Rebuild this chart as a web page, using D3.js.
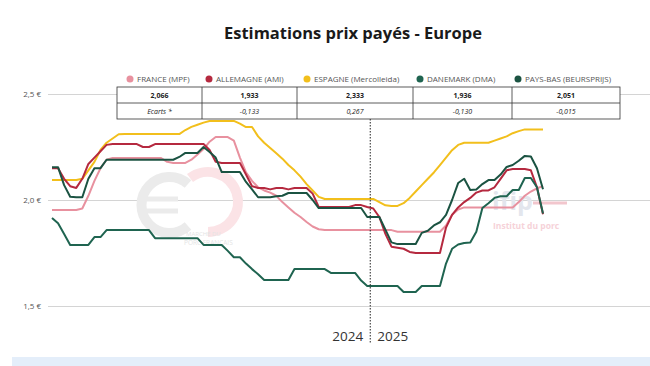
<!DOCTYPE html>
<meta charset="utf-8">
<script src="https://cdn.jsdelivr.net/npm/d3@7"></script>
<style>
  body { margin: 0; background: #fff; font-family: 'Open Sans', sans-serif; }
</style>
<div id="chart"></div>
<script>
// weekly estimates, 2024 (53 pts) then 2025
var france = [1.953,1.953,1.953,1.953,1.953,1.96,2.02,2.09,2.15,2.19,
  2.198,2.198,2.198,2.198,2.198,2.198,2.198,2.198,2.198,2.18,
  2.175,2.175,2.175,2.19,2.215,2.24,2.275,2.297,2.297,2.297,
  2.28,2.20,2.13,2.09,2.06,2.045,2.035,2.02,1.99,1.965,
  1.94,1.92,1.896,1.875,1.862,1.858,1.858,1.858,1.858,1.858,
  1.858,1.858,1.858,1.858,1.858,1.858,1.858,1.85,1.85,1.85,
  1.85,1.85,1.85,1.85,1.85,1.88,1.93,1.955,1.965,1.965,
  1.965,1.965,1.965,1.965,1.965,1.965,1.965,1.99,2.02,2.04,
  2.055,2.066];
var allemagne = [2.15,2.15,2.10,2.065,2.057,2.10,2.17,2.20,2.23,2.26,
  2.264,2.264,2.264,2.264,2.264,2.25,2.25,2.264,2.264,2.264,
  2.264,2.264,2.264,2.264,2.264,2.264,2.236,2.18,2.175,2.175,
  2.175,2.175,2.12,2.065,2.057,2.057,2.05,2.057,2.057,2.05,
  2.057,2.057,2.057,2.03,1.967,1.967,1.967,1.967,1.967,1.967,
  1.976,1.976,1.967,1.96,1.92,1.84,1.78,1.775,1.77,1.755,
  1.75,1.75,1.75,1.75,1.75,1.87,1.93,1.965,1.99,2.01,
  2.035,2.045,2.045,2.06,2.10,2.14,2.146,2.146,2.146,2.14,
  2.06,1.933];
var espagne = [2.094,2.094,2.094,2.094,2.094,2.10,2.14,2.18,2.236,2.27,
  2.29,2.31,2.311,2.311,2.311,2.311,2.311,2.311,2.311,2.311,
  2.311,2.311,2.33,2.345,2.355,2.365,2.373,2.373,2.373,2.373,
  2.373,2.36,2.344,2.344,2.30,2.27,2.245,2.22,2.195,2.165,
  2.14,2.11,2.075,2.045,2.015,2.005,2.005,2.005,2.005,2.005,
  2.005,2.005,2.005,2.005,1.99,1.975,1.972,1.972,1.985,2.01,
  2.04,2.07,2.10,2.13,2.165,2.20,2.235,2.26,2.27,2.27,
  2.27,2.27,2.27,2.28,2.29,2.30,2.315,2.325,2.333,2.333,
  2.333,2.333];
var danemark = [1.915,1.89,1.84,1.788,1.788,1.788,1.788,1.825,1.825,1.858,
  1.858,1.858,1.858,1.858,1.858,1.858,1.858,1.82,1.82,1.82,
  1.82,1.82,1.82,1.82,1.82,1.788,1.788,1.788,1.788,1.76,
  1.73,1.73,1.70,1.674,1.65,1.623,1.623,1.623,1.623,1.623,
  1.674,1.674,1.674,1.674,1.674,1.674,1.656,1.656,1.656,1.656,
  1.656,1.62,1.594,1.594,1.594,1.594,1.594,1.594,1.566,1.566,
  1.566,1.594,1.594,1.594,1.594,1.70,1.77,1.79,1.797,1.80,
  1.85,1.962,1.985,2.01,2.018,2.018,2.047,2.047,2.104,2.104,
  2.06,1.936];
var paysBas = [2.155,2.155,2.07,2.015,2.013,2.013,2.10,2.15,2.15,2.19,
  2.19,2.19,2.19,2.19,2.19,2.19,2.19,2.19,2.19,2.19,
  2.19,2.203,2.222,2.222,2.222,2.25,2.226,2.20,2.132,2.132,
  2.132,2.132,2.085,2.05,2.013,2.013,2.013,2.018,2.02,2.033,
  2.033,2.033,2.033,2.00,1.962,1.962,1.962,1.962,1.962,1.962,
  1.962,1.962,1.92,1.92,1.92,1.86,1.80,1.792,1.792,1.792,
  1.792,1.845,1.855,1.88,1.895,1.93,2.00,2.08,2.10,2.047,
  2.05,2.075,2.094,2.094,2.12,2.156,2.165,2.185,2.208,2.205,
  2.15,2.051];

var seriesNames = ["FRANCE (MPF)", "ALLEMAGNE (AMI)", "ESPAGNE (Mercolleida)", "DANEMARK (DMA)", "PAYS-BAS (BEURSPRIJS)"];
var seriesColors = ["#e8919f", "#b5293f", "#f2bf1c", "#1f6450", "#1b5342"];
var lastValues = ["2,066", "1,933", "2,333", "1,936", "2,051"];
var ecarts = ["Ecarts *", "-0,133", "0,267", "-0,130", "-0,015"];
var yTicks = [1.5, 2.0, 2.5];
var years = ["2024", "2025"];
var weeks2024 = 53;

var W = 650, H = 366;
var svg = d3.select("#chart").append("svg").attr("width", W).attr("height", H);

var x = d3.scaleLinear().domain([0, france.length - 1]).range([52, 543]);
var y = d3.scaleLinear().domain([1.5, 2.5]).range([306, 94]);

// title
svg.append("text").attr("x", 353).attr("y", 39).attr("text-anchor", "middle")
  .style("font-size", "16.5px").style("font-weight", "bold").style("fill", "#1a1a1a")
  .text("Estimations prix payés - Europe");

// y axis with gridlines
var yAxis = svg.append("g").attr("transform", "translate(650,0)")
  .call(d3.axisLeft(y).tickValues(yTicks).tickSize(602).tickPadding(7)
    .tickFormat(function(d){ return d3.format(".1f")(d).replace(".", ",") + " €"; }));
yAxis.select(".domain").remove();
yAxis.selectAll("line").style("stroke", "#d4d4d4");
yAxis.selectAll("text").style("font-size", "8px").style("fill", "#555").style("font-family", "'Open Sans', sans-serif");

// watermarks (drawn as shapes so they stay behind)
var wm = svg.append("g");
wm.append("path").attr("d", "M188,184 A28,28 0 1 0 188,226")
  .style("fill", "none").style("stroke", "#ebebeb").style("stroke-width", 10);
wm.append("line").attr("x1", 143).attr("x2", 178).attr("y1", 199).attr("y2", 199)
  .style("stroke", "#ebebeb").style("stroke-width", 5);
wm.append("line").attr("x1", 143).attr("x2", 178).attr("y1", 211).attr("y2", 211)
  .style("stroke", "#ebebeb").style("stroke-width", 5);
wm.append("path").attr("d", "M190,178 A30,30 0 1 1 208,232")
  .style("fill", "none").style("stroke", "#fbe3e6").style("stroke-width", 10);
wm.append("text").attr("x", 186).attr("y", 236).style("font-size", "6px").style("fill", "#e4e4e4").text("MARCHÉ DU");
wm.append("text").attr("x", 184).attr("y", 245).style("font-size", "6.5px").style("fill", "#e4e4e4").text("PORC FRANÇAIS");
wm.append("text").attr("x", 492).attr("y", 210).style("font-size", "25px").style("font-weight", "bold").style("fill", "#e3e6ed").text("ifip");
wm.append("line").attr("x1", 533).attr("x2", 567).attr("y1", 203).attr("y2", 203)
  .style("stroke", "#f2c6cd").style("stroke-width", 3);
wm.append("text").attr("x", 493).attr("y", 229).style("font-size", "8.5px").style("font-weight", "bold").style("fill", "#f6d2d8").text("Institut du porc");

// lines
var line = d3.line().x(function(d, i){ return x(i); }).y(function(d){ return y(d); });
var allSeries = [france, espagne, allemagne, danemark, paysBas];
var order = [0, 2, 1, 3, 4];
allSeries.forEach(function(s, k){
  svg.append("path").datum(s).attr("d", line)
    .style("fill", "none").style("stroke", seriesColors[order[k]]).style("stroke-width", 2)
    .style("stroke-linejoin", "round");
});

// year divider
var xDiv = x(weeks2024 - 0.5);
svg.append("line").attr("x1", xDiv).attr("x2", xDiv).attr("y1", 119).attr("y2", 343)
  .style("stroke", "#222").style("stroke-width", 1).style("stroke-dasharray", "1.5,1.5");
svg.append("text").attr("x", xDiv - 7).attr("y", 341).attr("text-anchor", "end")
  .style("font-size", "13.5px").style("fill", "#333").text(years[0]);
svg.append("text").attr("x", xDiv + 7).attr("y", 341).attr("text-anchor", "start")
  .style("font-size", "13.5px").style("fill", "#333").text(years[1]);

// legend
var legendX = [130, 209, 307, 420, 518];
seriesNames.forEach(function(n, i){
  svg.append("circle").attr("cx", legendX[i]).attr("cy", 79).attr("r", 3.5).style("fill", seriesColors[i]);
  svg.append("text").attr("x", legendX[i] + 7).attr("y", 82).style("font-size", "8px").style("fill", "#555").text(n);
});

// table
var colX = [117, 202, 297, 413, 512, 620];
var rowY = [87, 103, 119];
var tbl = svg.append("g");
tbl.append("rect").attr("x", colX[0]).attr("y", rowY[0]).attr("width", colX[5] - colX[0]).attr("height", rowY[2] - rowY[0])
  .style("fill", "#fff").style("stroke", "#333").style("stroke-width", 0.8);
tbl.append("line").attr("x1", colX[0]).attr("x2", colX[5]).attr("y1", rowY[1]).attr("y2", rowY[1])
  .style("stroke", "#333").style("stroke-width", 0.8);
colX.slice(1, 5).forEach(function(cx){
  tbl.append("line").attr("x1", cx).attr("x2", cx).attr("y1", rowY[0]).attr("y2", rowY[2])
    .style("stroke", "#333").style("stroke-width", 0.8);
});
lastValues.forEach(function(v, i){
  tbl.append("text").attr("x", (colX[i] + colX[i+1]) / 2).attr("y", 98).attr("text-anchor", "middle")
    .style("font-size", "7px").style("font-weight", "bold").style("fill", "#222").text(v);
});
ecarts.forEach(function(v, i){
  tbl.append("text").attr("x", (colX[i] + colX[i+1]) / 2).attr("y", 114).attr("text-anchor", "middle")
    .style("font-size", "7px").style("font-style", "italic").style("fill", "#222").text(v);
});

// bottom band
svg.append("rect").attr("x", 12).attr("y", 357).attr("width", 638).attr("height", 12).style("fill", "#e4eefa");
</script>
